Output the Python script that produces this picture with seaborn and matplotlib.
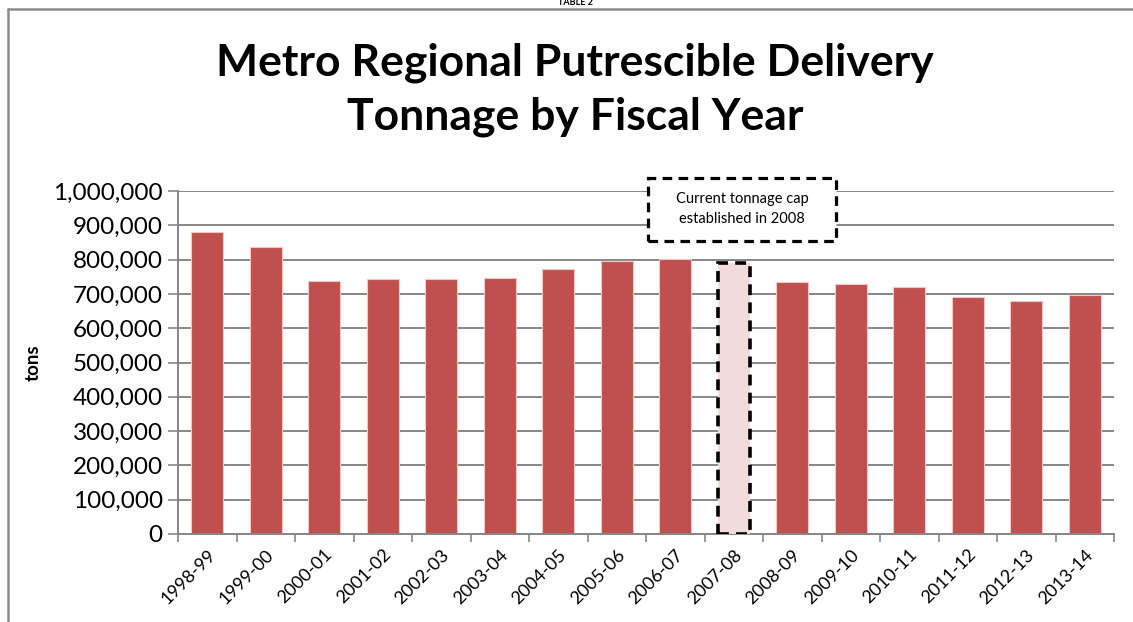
import matplotlib
matplotlib.use("Agg")
import matplotlib.pyplot as plt
import seaborn as sns
import pandas as pd
from matplotlib.lines import Line2D
from matplotlib.patches import Rectangle
from matplotlib.ticker import FuncFormatter, MultipleLocator, FixedLocator

fiscal_years = ["1998-99", "1999-00", "2000-01", "2001-02", "2002-03", "2003-04",
                "2004-05", "2005-06", "2006-07", "2007-08", "2008-09", "2009-10",
                "2010-11", "2011-12", "2012-13", "2013-14"]
tonnage = [880000, 838000, 737000, 743000, 744000, 746000, 772000, 795000,
           803000, 790000, 736000, 729000, 719000, 690000, 678000, 698000]
highlight_year = "2007-08"
title_text = "Metro Regional Putrescible Delivery\nTonnage by Fiscal Year"
note_text = "Current tonnage cap\nestablished in 2008"

sns.set_theme(style="white")
plt.rcParams["font.family"] = ["Lato", "DejaVu Sans"]
plt.rcParams["text.color"] = "black"
plt.rcParams["axes.labelcolor"] = "black"
plt.rcParams["xtick.color"] = "black"
plt.rcParams["ytick.color"] = "black"

bar_red = "#c0504d"
pink = "#f2dcdb"
grid_gray = "#868686"

df = pd.DataFrame({"year": fiscal_years, "tons": tonnage})
palette = {y: (pink if y == highlight_year else bar_red) for y in fiscal_years}

fig = plt.figure(figsize=(11.33, 6.22), dpi=100)
ax = fig.add_axes([178/1133, 1 - 534/622, (1114-178)/1133, (534-191)/622])

sns.barplot(data=df, x="year", y="tons", hue="year", palette=palette,
            legend=False, width=0.55, ax=ax, edgecolor="#f4c7c6", linewidth=0.8,
            saturation=1)

hi_idx = fiscal_years.index(highlight_year)
for i, p in enumerate(ax.patches):
    if i == hi_idx:
        p.set_edgecolor("black")
        p.set_linestyle((0, (3, 2)))
        p.set_linewidth(2.6)
        p.set_zorder(4)

ax.set_ylim(0, 1000000)
ax.set_xlim(-0.5, len(fiscal_years) - 0.5)
ax.yaxis.set_major_locator(MultipleLocator(100000))
ax.yaxis.set_major_formatter(FuncFormatter(lambda v, _: f"{int(v):,}"))
ax.grid(axis="y", color=grid_gray, linewidth=1.4)
ax.set_axisbelow(True)

for s in ["top", "right"]:
    ax.spines[s].set_visible(False)
ax.spines["left"].set_color(grid_gray)
ax.spines["left"].set_linewidth(1.4)
ax.spines["bottom"].set_color(grid_gray)
ax.spines["bottom"].set_linewidth(1.4)

ax.tick_params(axis="y", which="major", left=True, length=7, width=1.2,
               color=grid_gray, labelsize=17.5, pad=4, labelcolor="black")
ax.set_xticks(range(len(fiscal_years)))
ax.set_xticklabels(fiscal_years, rotation=45, ha="right", rotation_mode="anchor",
                   fontsize=13)
ax.tick_params(axis="x", which="major", length=0, pad=9, labelcolor="black")
ax.xaxis.set_minor_locator(FixedLocator([i + 0.5 for i in range(-1, len(fiscal_years))]))
ax.tick_params(axis="x", which="minor", bottom=True, length=6, width=1.2, color=grid_gray)

ax.set_xlabel("")
ax.set_ylabel("tons", fontsize=13.5, fontweight="bold", color="black")
ax.yaxis.set_label_coords((42 - 178) / (1114 - 178), 0.5)

# annotation box
W, H = 1133, 622
fig.add_artist(Rectangle((648/W, 1 - 241/H), (836-648)/W, (241-178)/H,
                         transform=fig.transFigure, facecolor="white",
                         edgecolor="black", linestyle=(0, (3, 2)), linewidth=2.3,
                         zorder=5))
fig.text(742/W, 1 - 209/H, note_text, ha="center", va="center",
         fontsize=10.5, linespacing=1.55, zorder=6)

fig.text(575/W, 1 - 90/H, title_text, ha="center", va="center",
         fontsize=32, fontweight="bold", linespacing=1.4, color="black")
fig.text(575/W, 1 - 7/H, "TABLE 2", ha="center", va="bottom",
         fontsize=6.5, fontweight="bold", color="black")

# page border
fig.add_artist(Line2D([8/W, 8/W], [0, 1 - 9/H], color="#8c8c8c",
                      linewidth=1.8, transform=fig.transFigure))
fig.add_artist(Line2D([8/W, 1], [1 - 9/H, 1 - 9/H], color="#8c8c8c",
                      linewidth=1.8, transform=fig.transFigure))

fig.savefig("out.png", dpi=100)
